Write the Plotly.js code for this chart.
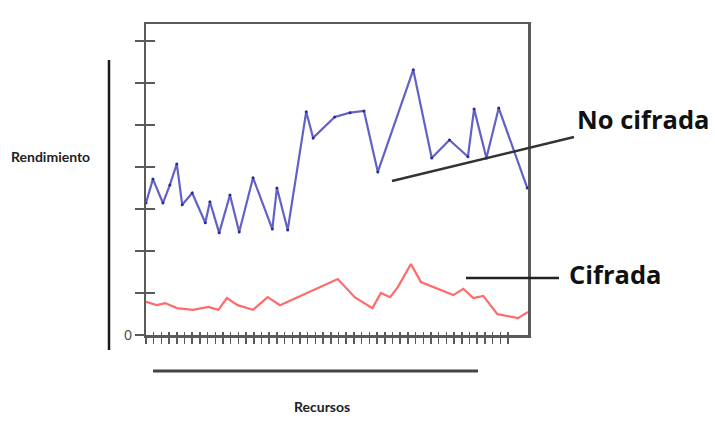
<!DOCTYPE html>
<html>
<head>
<meta charset="utf-8">
<script src="https://cdn.plot.ly/plotly-3.0.1.min.js"></script>
<style>
  html, body { margin: 0; padding: 0; background: #fff; }
  #chart { width: 715px; height: 423px; }
</style>
</head>
<body>
<div id="chart"></div>
<script>
'use strict';

// recursos (posicion en el eje x) y rendimiento de cada serie
var recursosNoCifrada = [0, 0.9, 2.2, 3.1, 4.0, 4.7, 6.0, 7.7, 8.3, 9.5, 10.9, 12.1, 13.9, 16.4, 17.0, 18.4,
  20.8, 21.7, 24.5, 26.5, 28.3, 30.1, 34.7, 37.1, 39.4, 41.8, 42.6, 44.2, 45.8, 49.5];
var noCifrada = [3.14, 3.71, 3.14, 3.57, 4.07, 3.10, 3.38, 2.67, 3.17, 2.43, 3.33, 2.45, 3.74, 2.52, 3.50, 2.50,
  5.31, 4.69, 5.19, 5.29, 5.33, 3.88, 6.31, 4.21, 4.64, 4.24, 5.38, 4.21, 5.40, 3.50];

var recursosCifrada = [0, 1.4, 2.5, 4.0, 6.1, 8.1, 9.4, 10.5, 11.9, 13.9, 15.8, 17.4, 24.9, 27.1, 29.4, 30.5,
  31.7, 32.7, 34.4, 35.7, 39.9, 41.2, 42.5, 43.8, 45.6, 48.3, 49.6];
var cifrada = [0.79, 0.71, 0.76, 0.64, 0.60, 0.67, 0.60, 0.88, 0.71, 0.60, 0.90, 0.71, 1.33, 0.90, 0.64, 1.00,
  0.90, 1.14, 1.69, 1.26, 0.95, 1.10, 0.88, 0.93, 0.50, 0.40, 0.55];

var etiquetasY = ['0', '', '', '', '', '', '', ''];
var nombres = ['No cifrada', 'Cifrada'];
var tituloY = 'Rendimiento';
var tituloX = 'Recursos';

var rangoX = [0, 49.6];
var rangoY = [0, 7.4];

// marcas del eje x: largas cada 4, cortas cada 1
var marcasLargas = [];
for (var i = 0; i <= 44; i += 4) marcasLargas.push(i);
var marcasCortas = [];
for (var j = 0; j <= 47; j++) marcasCortas.push(j);
var marcasY = [];
for (var k = 0; k <= 7; k++) marcasY.push(k);

// conversion de pixeles de la imagen a coordenadas "paper"
function px(x) { return (x - 146) / 382; }
function py(y) { return (335 - y) / 311; }

var gris = '#5a5a5a';
var fuente = 'Lato, "Liberation Sans", Arial, sans-serif';

var trazaNoCifrada = {
  type: 'scatter',
  mode: 'lines+markers',
  name: nombres[0],
  x: recursosNoCifrada,
  y: noCifrada,
  line: { color: '#6262c6', width: 2.2 },
  marker: { color: '#2a2a96', size: 3 },
  showlegend: false
};

var trazaCifrada = {
  type: 'scatter',
  mode: 'lines',
  name: nombres[1],
  x: recursosCifrada,
  y: cifrada,
  line: { color: '#ff6a6a', width: 2.2 },
  showlegend: false
};

// traza vacia para dibujar los ejes superpuestos (marcas que cruzan el eje)
var trazaEjes = { type: 'scatter', x: [], y: [], xaxis: 'x2', yaxis: 'y2', showlegend: false, hoverinfo: 'skip' };

var layout = {
  width: 715,
  height: 423,
  paper_bgcolor: '#fff',
  plot_bgcolor: '#fff',
  margin: { l: 146, r: 187, t: 24, b: 88 },
  showlegend: false,
  xaxis: {
    range: rangoX,
    showgrid: false,
    zeroline: false,
    showline: true,
    mirror: true,
    linecolor: gris,
    linewidth: 2.5,
    tickmode: 'array',
    tickvals: marcasLargas,
    ticktext: marcasLargas.map(function () { return ''; }),
    ticks: 'outside',
    ticklen: 13,
    tickwidth: 1.8,
    tickcolor: gris,
    minor: { tickvals: marcasCortas, ticks: 'outside', ticklen: 6, tickwidth: 1.5, tickcolor: gris }
  },
  yaxis: {
    range: rangoY,
    showgrid: false,
    zeroline: false,
    showline: true,
    mirror: true,
    linecolor: gris,
    linewidth: 2.5,
    tickmode: 'array',
    tickvals: marcasY,
    ticktext: etiquetasY,
    ticks: 'outside',
    ticklen: 9,
    tickwidth: 2,
    tickcolor: gris,
    tickfont: { family: fuente, size: 13, color: '#444' }
  },
  xaxis2: {
    overlaying: 'x',
    anchor: 'y2',
    range: rangoX,
    showgrid: false,
    zeroline: false,
    showline: false,
    tickmode: 'array',
    tickvals: marcasCortas,
    showticklabels: false,
    ticks: 'inside',
    ticklen: 3,
    tickwidth: 1.5,
    tickcolor: gris
  },
  yaxis2: {
    overlaying: 'y',
    anchor: 'x2',
    range: rangoY,
    showgrid: false,
    zeroline: false,
    showline: false,
    tickmode: 'array',
    tickvals: marcasY,
    showticklabels: false,
    ticks: 'inside',
    ticklen: 9,
    tickwidth: 2,
    tickcolor: gris
  },
  shapes: [
    // linea vertical izquierda
    { type: 'line', xref: 'paper', yref: 'paper', x0: px(109), x1: px(109), y0: py(60), y1: py(350),
      line: { color: '#1a1a1a', width: 2.5 } },
    // linea horizontal inferior
    { type: 'line', xref: 'paper', yref: 'paper', x0: px(153), x1: px(478), y0: py(371), y1: py(371),
      line: { color: '#444', width: 3 } },
    // indicador "No cifrada"
    { type: 'line', xref: 'paper', yref: 'paper', x0: px(392), x1: px(574), y0: py(181), y1: py(137),
      line: { color: '#333', width: 2.5 } },
    // indicador "Cifrada"
    { type: 'line', xref: 'paper', yref: 'paper', x0: px(466), x1: px(559), y0: py(278), y1: py(278),
      line: { color: '#222', width: 2.5 } }
  ],
  annotations: [
    { xref: 'paper', yref: 'paper', x: px(575), y: py(119), xanchor: 'left', yanchor: 'middle',
      text: '<b>' + nombres[0] + '</b>', showarrow: false,
      font: { family: '"Open Sans", Arial, sans-serif', size: 25.5, color: '#111' } },
    { xref: 'paper', yref: 'paper', x: px(567), y: py(274), xanchor: 'left', yanchor: 'middle',
      text: '<b>' + nombres[1] + '</b>', showarrow: false,
      font: { family: '"Open Sans", Arial, sans-serif', size: 25.5, color: '#111' } },
    { xref: 'paper', yref: 'paper', x: px(9), y: py(157), xanchor: 'left', yanchor: 'middle',
      text: '<b>' + tituloY + '</b>', showarrow: false,
      font: { family: fuente, size: 14, color: '#222' } },
    { xref: 'paper', yref: 'paper', x: px(322), y: py(406), xanchor: 'center', yanchor: 'middle',
      text: '<b>' + tituloX + '</b>', showarrow: false,
      font: { family: fuente, size: 14, color: '#222' } }
  ]
};

Plotly.newPlot('chart', [trazaNoCifrada, trazaCifrada, trazaEjes], layout, { staticPlot: true, displayModeBar: false });
</script>
</body>
</html>
